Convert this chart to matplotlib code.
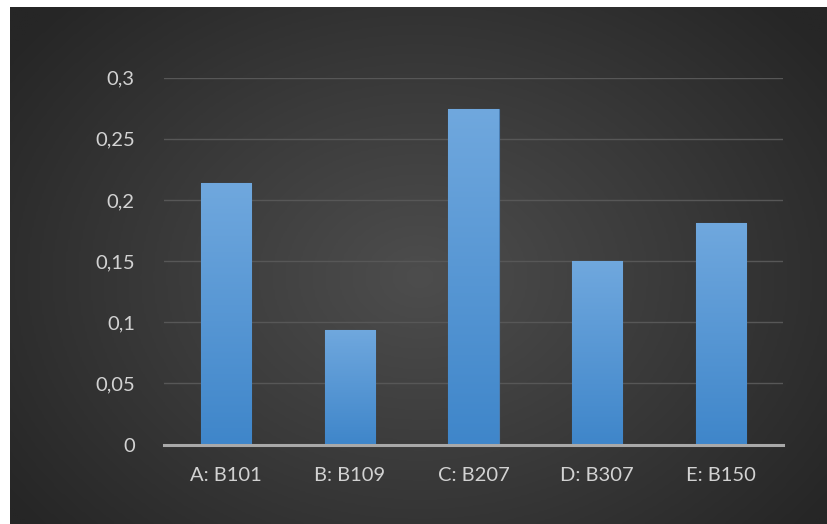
import numpy as np
import matplotlib
matplotlib.use("Agg")
import matplotlib.pyplot as plt
from matplotlib.colors import LinearSegmentedColormap

categories = ["A: B101", "B: B109", "C: B207", "D: B307", "E: B150"]
values = [0.214, 0.094, 0.274, 0.150, 0.181]
yticks = [0, 0.05, 0.1, 0.15, 0.2, 0.25, 0.3]
ytick_labels = ["0", "0,05", "0,1", "0,15", "0,2", "0,25", "0,3"]

plt.rcParams["font.family"] = ["Lato", "DejaVu Sans"]
text_color = "#d2d2d2"

W, H = 828, 524
fig = plt.figure(figsize=(W / 100, H / 100), dpi=100, facecolor="white")

# dark chart background with a soft radial highlight
bg_ax = fig.add_axes([10 / W, 0, (W - 10) / W, (H - 7) / H])
bg_ax.set_axis_off()
ny, nx = 260, 410
yy, xx = np.mgrid[0:ny, 0:nx]
cx, cy = nx * 0.50, ny * 0.52
r = np.sqrt(((xx - cx) / (nx * 0.62)) ** 2 + ((yy - cy) / (ny * 0.75)) ** 2)
r = np.clip(r, 0, 1)
bg_cmap = LinearSegmentedColormap.from_list("bg", ["#4d4d4d", "#3a3a3a", "#262626"])
bg_ax.imshow(r, cmap=bg_cmap, vmin=0, vmax=1, aspect="auto",
             extent=[0, 1, 0, 1], interpolation="bilinear")
bg_ax.set_xlim(0, 1)
bg_ax.set_ylim(0, 1)

ax = fig.add_axes([164 / W, 79.5 / H, (783 - 164) / W, (446.3 - 79.5) / H])
ax.set_facecolor("none")

x = np.arange(len(categories))
bar_w = 0.405
bars = ax.bar(x, values, width=bar_w, color="#5b9bd5", edgecolor="#4a7eb3",
              linewidth=0.8, zorder=3)

# vertical gradient inside each bar
bar_cmap = LinearSegmentedColormap.from_list("bar", ["#3f86ca", "#70a8de"])
grad = np.linspace(0, 1, 256).reshape(-1, 1)
for b in bars:
    x0, y0 = b.get_x(), b.get_y()
    im = ax.imshow(grad, cmap=bar_cmap, origin="lower", aspect="auto",
                   extent=[x0, x0 + b.get_width(), y0, y0 + b.get_height()],
                   zorder=3.5, interpolation="bilinear")
    im.set_clip_path(b)

ax.set_xlim(-0.5, len(categories) - 0.5)
ax.set_ylim(0, 0.3)
ax.set_yticks(yticks)
ax.set_yticklabels(ytick_labels)
ax.set_xticks(x)
ax.set_xticklabels(categories)
ax.tick_params(axis="both", length=0, colors=text_color, labelsize=14.5)
ax.tick_params(axis="y", pad=21)
ax.tick_params(axis="x", pad=16)

ax.grid(axis="y", color="#575757", linewidth=1.0, zorder=1)
ax.set_axisbelow(True)
for s in ["top", "right", "left"]:
    ax.spines[s].set_visible(False)
ax.spines["bottom"].set_color("#a9a9a9")
ax.spines["bottom"].set_linewidth(2.2)
ax.spines["bottom"].set_zorder(4)

fig.savefig("out.png", dpi=100, facecolor="white")
